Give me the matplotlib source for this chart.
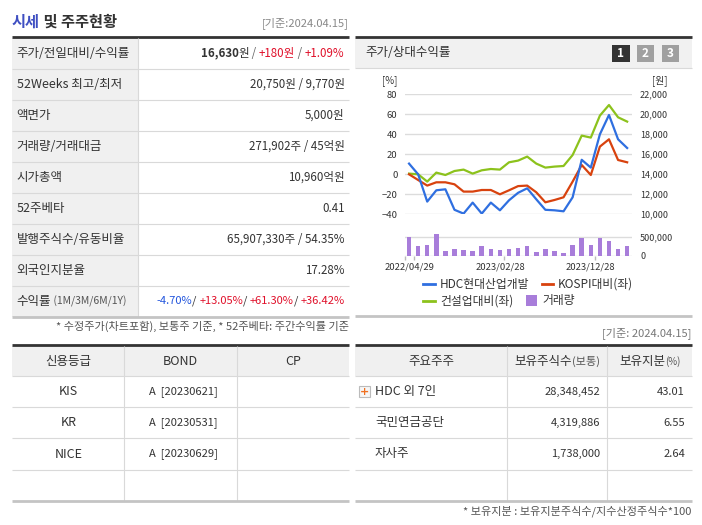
import matplotlib
matplotlib.use("Agg")
import matplotlib.pyplot as plt
from matplotlib.patches import Rectangle
from matplotlib.ticker import FuncFormatter

plt.rcParams["font.family"] = ["Noto Sans CJK KR", "DejaVu Sans"]

W, H = 702, 525

# ---- chart data: monthly points 2022/04 .. 2024/04 ----
hdc_price = [15070, 14000, 11270, 12400, 12500, 10450, 10070, 11170, 10070, 11170,
             10400, 11400, 12150, 12600, 11500, 10450, 10400, 10300, 11700, 15450,
             14670, 18000, 19930, 17500, 16630]
kospi_rel = [0, -5.7, -11.3, -8, -8, -10, -17.3, -17.3, -15.7, -15.7,
             -20, -16, -11.8, -11.3, -18, -28, -25.7, -23, -7.3, 9.3,
             -0.7, 27.7, 35, 14.3, 12]
constr_rel = [0.7, 0, -7.3, 1.7, -0.7, 3.3, 4.7, 0.7, 4, 5.3,
              4.7, 12, 13.7, 17.7, 10.7, 6.7, 7.7, 8.3, 19.3, 38.7,
              36.7, 58.7, 69.3, 57, 52.7]
volume = [509000, 264000, 291000, 591000, 127000, 182000, 155000, 127000, 264000, 182000,
          155000, 182000, 209000, 264000, 100000, 182000, 127000, 73000, 291000, 482000,
          291000, 482000, 409000, 182000, 264000]
date_idx = [0, 10, 20]
date_labels = ["2022/04/29", "2023/02/28", "2023/12/28"]

# ---- table data ----
summary_labels = ["주가/전일대비/수익률", "52Weeks 최고/최저", "액면가", "거래량/거래대금",
                  "시가총액", "52주베타", "발행주식수/유동비율", "외국인지분율"]
summary_values = [None, "20,750원 / 9,770원", "5,000원", "271,902주 / 45억원",
                  "10,960억원", "0.41", "65,907,330주 / 54.35%", "17.28%"]
returns = ["-4.70%", "+13.05%", "+61.30%", "+36.42%"]

credit_agency = ["KIS", "KR", "NICE"]
credit_bond = ["A  [20230621]", "A  [20230531]", "A  [20230629]"]

holders = ["HDC 외 7인", "국민연금공단", "자사주"]
holder_shares = ["28,348,452", "4,319,886", "1,738,000"]
holder_pct = ["43.01", "6.55", "2.64"]

DARK = "#333333"
RED = "#e0102a"
BLUE = "#2255dd"
GRID = "#d9d9d9"
C_HDC, C_KOSPI, C_CON, C_VOL = "#2f6fe0", "#d8420e", "#8cc21c", "#a87dda"

fig = plt.figure(figsize=(W / 100, H / 100), dpi=100)
bg = fig.add_axes([0, 0, 1, 1])
bg.set_xlim(0, W)
bg.set_ylim(H, 0)
bg.axis("off")
renderer = fig.canvas.get_renderer()


def px_axes(x0, y0, x1, y1):
    return fig.add_axes([x0 / W, 1 - y1 / H, (x1 - x0) / W, (y1 - y0) / H])


def rich(x, y, parts, ha="left"):
    """Draw a run of differently styled strings side by side."""
    objs = [bg.text(0, y, s, ha="left", va="center", **st) for s, st in parts]
    widths = [o.get_window_extent(renderer).width for o in objs]
    start = {"left": x, "right": x - sum(widths), "center": x - sum(widths) / 2}[ha]
    for o, w in zip(objs, widths):
        o.set_x(start)
        start += w


def hline(x0, x1, y, color=GRID, lw=0.8):
    bg.plot([x0, x1], [y, y], color=color, lw=lw, solid_capstyle="butt")


def vline(x, y0, y1, color=GRID, lw=0.8):
    bg.plot([x, x], [y0, y1], color=color, lw=lw, solid_capstyle="butt")


N = dict(color=DARK, fontsize=9)
V = dict(color=DARK, fontsize=8.3)
NUM = dict(color=DARK, fontsize=8)

# ================= left: 시세 및 주주현황 =================
rich(12, 22, [("시세", dict(color="#3f4fc2", fontsize=11, fontweight="bold")),
              (" 및 주주현황", dict(color=DARK, fontsize=11, fontweight="bold"))])
bg.text(349, 23, "[기준:2024.04.15]", ha="right", va="center", color="#888888", fontsize=8)
hline(12, 349, 36.7, color=DARK, lw=2)

row_top, row_h = 37.7, 31
bg.add_patch(Rectangle((12, row_top), 125.7, 9 * row_h, fc="#f0f0f0", ec="none"))
for i in range(1, 9):
    hline(12, 349, row_top + i * row_h)
vline(137.7, row_top, row_top + 9 * row_h)
hline(12, 349, row_top + 9 * row_h, color="#c4c4c4", lw=2)

for i, lab in enumerate(summary_labels):
    yc = row_top + (i + 0.5) * row_h
    bg.text(16.7, yc, lab, ha="left", va="center", **N)
    if summary_values[i] is not None:
        bg.text(344.7, yc, summary_values[i], ha="right", va="center", **V)

yc = row_top + 0.5 * row_h
rich(344.7, yc, [("16,630", dict(color=DARK, fontsize=8.3, fontweight="bold")),
                 ("원", V), (" / ", dict(color="#666666", fontsize=8.3)),
                 ("+180원", dict(color=RED, fontsize=8.3)),
                 (" / ", dict(color="#666666", fontsize=8.3)),
                 ("+1.09%", dict(color=RED, fontsize=8.3))], ha="right")

yc = row_top + 8.5 * row_h
rich(16.7, yc, [("수익률", N), (" (1M/3M/6M/1Y)", dict(color="#555555", fontsize=7.5))])
parts = []
for k, r in enumerate(returns):
    if k:
        parts.append(("/ ", dict(color=DARK, fontsize=8)))
    parts.append((r, dict(color=BLUE if r.startswith("-") else RED, fontsize=8)))
rich(344.7, yc, parts, ha="right")

bg.text(349, 326, "* 수정주가(차트포함), 보통주 기준, * 52주베타: 주간수익률 기준",
        ha="right", va="center", color="#555555", fontsize=8)

# ================= right: 주가/상대수익률 =================
hline(355, 691.7, 36.7, color=DARK, lw=2)
bg.add_patch(Rectangle((355, 37.7), 336.7, 30.6, fc="#f1f1f1", ec="none"))
hline(355, 691.7, 68.3)
bg.text(365, 53, "주가/상대수익률", ha="left", va="center", **N)
for k, (bx, fc) in enumerate([(612, "#333333"), (636.5, "#a0a0a0"), (661.5, "#a0a0a0")]):
    bg.add_patch(Rectangle((bx, 45), 17.5, 17, fc=fc, ec="none"))
    bg.text(bx + 8.75, 53.5, str(k + 1), ha="center", va="center", color="white",
            fontsize=8.5, fontweight="bold")

x = list(range(len(hdc_price)))

ax = px_axes(404.5, 94.3, 631.7, 214.3)
ax.set_xlim(-0.5, 24.5)
ax.set_ylim(-40, 80)
ax.set_yticks(range(-40, 81, 20))
ax.set_xticks([])
ax.grid(axis="y", color="#dcdcdc", lw=1)
for s in ax.spines.values():
    s.set_visible(False)
ax.tick_params(axis="y", length=0, labelsize=6.8, labelcolor=DARK, pad=5)
ax.set_facecolor("none")
ax.plot(x, constr_rel, color=C_CON, lw=1.6)
ax.plot(x, kospi_rel, color=C_KOSPI, lw=1.6)

ax2 = ax.twinx()
ax2.set_ylim(10000, 22000)
ax2.set_yticks(range(10000, 22001, 2000))
ax2.yaxis.set_major_formatter(FuncFormatter(lambda v, p: f"{int(v):,}"))
for s in ax2.spines.values():
    s.set_visible(False)
ax2.tick_params(axis="y", length=0, labelsize=6.5, labelcolor=DARK, pad=6)
ax2.plot(x, hdc_price, color=C_HDC, lw=1.6)

bg.text(397, 81, "[%]", ha="right", va="center", color=DARK, fontsize=7)
bg.text(652, 81, "[원]", ha="left", va="center", color=DARK, fontsize=7)

vax = px_axes(404.5, 233.6, 631.7, 255.7)
vax.set_xlim(-0.5, 24.5)
vax.set_ylim(0, 600000)
vax.bar(x, volume, width=0.5, color=C_VOL, zorder=3)
vax.set_yticks([0, 500000])
vax.yaxis.set_major_formatter(FuncFormatter(lambda v, p: f"{int(v):,}"))
vax.yaxis.tick_right()
vax.grid(axis="y", color="#dcdcdc", lw=1)
for s in vax.spines.values():
    s.set_visible(False)
vax.tick_params(axis="y", length=0, labelsize=6.5, labelcolor=DARK, pad=6)
vax.set_xticks([-0.5, 0.5, 10.5, 20.5])
vax.set_xticklabels([])
vax.tick_params(axis="x", length=3, color="#bbbbbb", width=1)
for i, lab in zip(date_idx, date_labels):
    vax.text(i, -0.53, lab, transform=vax.get_xaxis_transform(), ha="center",
             va="center", fontsize=6.8, color=DARK)

# legend
LG = dict(color=DARK, fontsize=8.5)
bg.plot([423, 435], [284.3, 284.3], color=C_HDC, lw=2)
bg.text(440, 284.3, "HDC현대산업개발", ha="left", va="center", **LG)
bg.plot([541.7, 553], [284.3, 284.3], color=C_KOSPI, lw=2)
bg.text(558, 284.3, "KOSPI대비(좌)", ha="left", va="center", **LG)
bg.plot([423, 435], [300.7, 300.7], color=C_CON, lw=2)
bg.text(440, 300.7, "건설업대비(좌)", ha="left", va="center", **LG)
bg.add_patch(Rectangle((526, 295), 11, 11, fc=C_VOL, ec="none"))
bg.text(542, 300.7, "거래량", ha="left", va="center", **LG)

hline(355, 691.7, 315.7, color="#c4c4c4", lw=2)
bg.text(691.7, 332.7, "[기준: 2024.04.15]", ha="right", va="center", color="#777777", fontsize=8)

# ================= bottom tables =================
t_top, t_head, t_row = 345, 31, 31.2
t_bot = t_top + t_head + 4 * t_row


def table_frame(x0, x1, cols):
    hline(x0, x1, t_top, color=DARK, lw=2)
    bg.add_patch(Rectangle((x0, t_top + 1), x1 - x0, t_head - 1, fc="#f0f0f0", ec="none"))
    for i in range(4):
        hline(x0, x1, t_top + t_head + i * t_row)
    for cx in cols:
        vline(cx, t_top + 1, t_bot)
    hline(x0, x1, t_bot, color="#c4c4c4", lw=2)


def row_y(i):
    return t_top + t_head + (i + 0.5) * t_row


# credit rating
table_frame(12.3, 349, [124.3, 236.7])
head_y = t_top + t_head / 2 + 1
bg.text(68.3, head_y, "신용등급", ha="center", va="center", **N)
bg.text(180.5, head_y, "BOND", ha="center", va="center", **N)
bg.text(292.8, head_y, "CP", ha="center", va="center", **N)
for i, (ag, bd) in enumerate(zip(credit_agency, credit_bond)):
    bg.text(68.3, row_y(i), ag, ha="center", va="center", **N)
    bg.text(183, row_y(i), bd, ha="center", va="center", **NUM)

# major shareholders
table_frame(355, 691.7, [506.7, 607.3])
bg.text(431.7, head_y, "주요주주", ha="center", va="center", **N)
rich(557, head_y, [("보유주식수", N), ("(보통)", dict(color="#555555", fontsize=8))], ha="center")
rich(650, head_y, [("보유지분", N), ("(%)", dict(color="#555555", fontsize=7))], ha="center")
for i, (nm, sh, pc) in enumerate(zip(holders, holder_shares, holder_pct)):
    yc = row_y(i)
    bg.text(375, yc, nm, ha="left", va="center", **N)
    bg.text(600, yc, sh, ha="right", va="center", **NUM)
    bg.text(685, yc, pc, ha="right", va="center", **NUM)
# expand icon next to the first holder
bg.add_patch(Rectangle((359, row_y(0) - 5.5), 11, 11, fc="#f6f6f6", ec="#bbbbbb", lw=0.8))
bg.text(364.5, row_y(0), "+", ha="center", va="center", color="#f07020",
        fontsize=8, fontweight="bold", family="DejaVu Sans")

bg.text(691.7, 511.7, "* 보유지분 : 보유지분주식수/지수산정주식수*100", ha="right",
        va="center", color="#555555", fontsize=8)

fig.savefig("out.png", dpi=100)
